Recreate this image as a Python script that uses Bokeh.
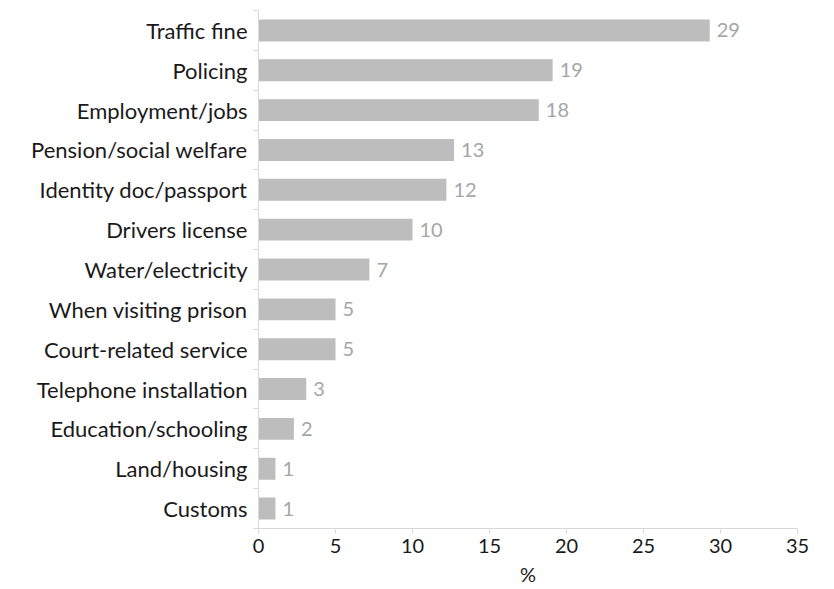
from bokeh.plotting import figure
from bokeh.models import ColumnDataSource, FixedTicker, Range1d
from bokeh.core.properties import value
from bokeh.embed import file_html
from bokeh.resources import INLINE

categories = ["Traffic fine", "Policing", "Employment/jobs", "Pension/social welfare",
              "Identity doc/passport", "Drivers license", "Water/electricity",
              "When visiting prison", "Court-related service", "Telephone installation",
              "Education/schooling", "Land/housing", "Customs"]
values = [29.3, 19.1, 18.2, 12.7, 12.2, 10.0, 7.2, 5.0, 5.0, 3.1, 2.3, 1.1, 1.1]
labels = ["29", "19", "18", "13", "12", "10", "7", "5", "5", "3", "2", "1", "1"]
x_ticks = [0, 5, 10, 15, 20, 25, 30, 35]

n = len(categories)
ypos = [n - 1 - i for i in range(n)]

src = ColumnDataSource(dict(y=ypos, v=values, lab=labels, cat=categories))

FONT = "Lato"

p = figure(width=818, height=589, output_backend="svg", toolbar_location=None,
           x_range=Range1d(0, 35), y_range=Range1d(-0.5, n - 0.5),
           min_border_left=258, min_border_right=21, min_border_top=10, min_border_bottom=61)

p.hbar(y="y", right="v", left=0, height=0.55, source=src, fill_color="#bdbdbd", line_color=None)
p.text(x="v", y="y", text="lab", source=src, x_offset=7, text_baseline="middle",
       text_align="left", text_font=value(FONT), text_font_size="20px", text_color="#a6a6a6")

p.xgrid.visible = False
p.ygrid.visible = False
p.outline_line_color = None

xa = p.xaxis[0]
xa.ticker = FixedTicker(ticks=x_ticks)
xa.axis_line_color = "#d9d9d9"
xa.major_tick_line_color = "#d9d9d9"
xa.major_tick_in = 0
xa.major_tick_out = 5
xa.minor_tick_line_color = None
xa.major_label_text_font = FONT
xa.major_label_text_font_size = "20px"
xa.major_label_text_color = "#1a1a1a"
xa.major_label_standoff = 5
xa.axis_label = "%"
xa.axis_label_text_font = FONT
xa.axis_label_text_font_size = "20px"
xa.axis_label_text_font_style = "normal"
xa.axis_label_text_color = "#1a1a1a"
xa.axis_label_standoff = 6

ya = p.yaxis[0]
ya.ticker = FixedTicker(ticks=ypos, minor_ticks=[i - 0.5 for i in range(n + 1)])
ya.major_label_overrides = {y: c for y, c in zip(ypos, categories)}
ya.axis_line_color = "#d9d9d9"
ya.major_tick_line_color = None
ya.major_tick_in = 0
ya.major_tick_out = 0
ya.minor_tick_line_color = "#d9d9d9"
ya.minor_tick_in = 0
ya.minor_tick_out = 5
ya.major_label_text_font = FONT
ya.major_label_text_font_size = "22px"
ya.major_label_text_color = "#1a1a1a"
ya.major_label_standoff = 6

open("out.html", "w").write(file_html(p, INLINE))
